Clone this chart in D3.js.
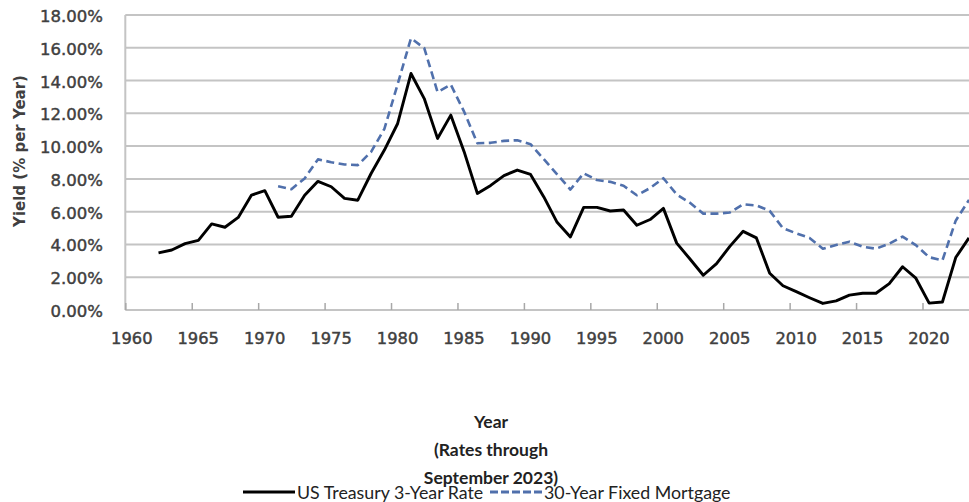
<!DOCTYPE html>
<html>
<head>
<meta charset="utf-8">
<script src="https://cdn.jsdelivr.net/npm/d3@7"></script>
<style>
  html, body { margin: 0; padding: 0; background: #fff; }
  svg { display: block; }
</style>
</head>
<body>
<svg id="chart" width="969" height="502"></svg>
<script>
// Annual average yields (percent), one value per year
const treasuryYears = d3.range(1962, 2024);
const treasury3Y = [
  3.49, 3.66, 4.05, 4.25, 5.25, 5.05, 5.65, 7.01, 7.28, 5.66, 5.72, 7.00,
  7.85, 7.52, 6.81, 6.70, 8.33, 9.76, 11.38, 14.43, 12.90, 10.47, 11.89,
  9.66, 7.11, 7.60, 8.20, 8.54, 8.27, 6.90, 5.35, 4.46, 6.26, 6.26, 6.04,
  6.10, 5.17, 5.52, 6.20, 4.08, 3.11, 2.12, 2.83, 3.88, 4.80, 4.40, 2.24,
  1.48, 1.12, 0.75, 0.40, 0.56, 0.91, 1.02, 1.02, 1.61, 2.64, 1.94, 0.42,
  0.49, 3.20, 4.40
];

const mortgageYears = d3.range(1971, 2024);
const mortgage30Y = [
  7.55, 7.37, 8.03, 9.19, 9.02, 8.88, 8.84, 9.65, 11.05, 13.78, 16.58,
  15.98, 13.30, 13.75, 12.10, 10.17, 10.20, 10.32, 10.36, 10.12, 9.20,
  8.28, 7.35, 8.34, 7.93, 7.82, 7.58, 7.00, 7.44, 8.04, 7.05, 6.54, 5.88,
  5.88, 5.95, 6.45, 6.38, 6.05, 4.99, 4.68, 4.40, 3.74, 3.97, 4.17, 3.86,
  3.74, 4.05, 4.48, 3.96, 3.22, 3.03, 5.45, 6.72
];

const yTicks = [0, 2, 4, 6, 8, 10, 12, 14, 16, 18];
const xTicks = [1960, 1965, 1970, 1975, 1980, 1985, 1990, 1995, 2000, 2005, 2010, 2015, 2020];

const seriesNames = ["US Treasury 3-Year Rate", "30-Year Fixed Mortgage"];
const xTitleLines = ["Year", "(Rates through", "September 2023)"];
const yTitle = "Yield (% per Year)";

const treasury = treasuryYears.map((year, i) => ({ year, value: treasury3Y[i] }));
const mortgage = mortgageYears.map((year, i) => ({ year, value: mortgage30Y[i] }));

const svg = d3.select("#chart");

const plot = { left: 125.3, right: 969, top: 15, bottom: 310 };

const x = d3.scaleLinear().domain([1960, 2023.5]).range([plot.left, plot.right]);
const y = d3.scaleLinear().domain([0, 18]).range([plot.bottom, plot.top]);

const gridColor = "#c4c4c4";
const labelColor = "#404040";
const mortgageColor = "#5070ac";

// Horizontal gridlines
svg.append("g")
  .selectAll("line")
  .data(yTicks.filter(t => t > 0))
  .join("line")
  .attr("x1", plot.left).attr("x2", plot.right + 10)
  .attr("y1", d => y(d)).attr("y2", d => y(d))
  .attr("stroke", gridColor)
  .attr("stroke-width", 2);

// Left axis line
svg.append("line")
  .attr("x1", plot.left).attr("x2", plot.left)
  .attr("y1", y(18)).attr("y2", y(0))
  .attr("stroke", gridColor).attr("stroke-width", 2);

// Bottom axis with inward tick marks
const xAxis = d3.axisBottom(x)
  .tickValues(xTicks)
  .tickSizeInner(-7)
  .tickSizeOuter(0)
  .tickFormat("");
const gx = svg.append("g")
  .attr("transform", `translate(0,${y(0)})`)
  .call(xAxis);
gx.select(".domain").attr("stroke", gridColor).attr("stroke-width", 2)
  .attr("d", `M${plot.left},0H${plot.right + 10}`);
gx.selectAll(".tick line").attr("stroke", "#a8a8a8").attr("stroke-width", 1.5);

// Year labels
svg.append("g")
  .selectAll("text")
  .data(xTicks)
  .join("text")
  .attr("x", d => x(d) + 6.5)
  .attr("y", 338)
  .attr("text-anchor", "middle")
  .attr("dominant-baseline", "central")
  .attr("font-family", "DejaVu Sans")
  .attr("font-size", 16.3)
  .attr("fill", labelColor)
  .attr("stroke", labelColor)
  .attr("stroke-width", 0.45)
  .text(d => d);

// Percentage labels
svg.append("g")
  .selectAll("text")
  .data(yTicks)
  .join("text")
  .attr("x", 103)
  .attr("y", d => y(d) + 1.5)
  .attr("text-anchor", "end")
  .attr("dominant-baseline", "central")
  .attr("font-family", "DejaVu Sans")
  .attr("font-size", 16.5)
  .attr("fill", labelColor)
  .attr("stroke", labelColor)
  .attr("stroke-width", 0.45)
  .text(d => d3.format(".2f")(d) + "%");

// Y axis title
svg.append("text")
  .attr("transform", "translate(20,151) rotate(-90)")
  .attr("text-anchor", "middle")
  .attr("dominant-baseline", "central")
  .attr("font-family", "DejaVu Sans")
  .attr("font-weight", "bold")
  .attr("font-size", 15)
  .attr("fill", labelColor)
  .text(yTitle);

// Series lines, each annual average placed at mid-year
const line = d3.line()
  .x(d => x(d.year + 0.5))
  .y(d => y(d.value));

svg.append("path")
  .datum(mortgage)
  .attr("d", line)
  .attr("fill", "none")
  .attr("stroke", mortgageColor)
  .attr("stroke-width", 2.6)
  .attr("stroke-dasharray", "8,4.5")
  .attr("stroke-linejoin", "round");

svg.append("path")
  .datum(treasury)
  .attr("d", line)
  .attr("fill", "none")
  .attr("stroke", "#000")
  .attr("stroke-width", 2.9)
  .attr("stroke-linejoin", "round");

// X axis title, three lines
svg.append("g")
  .selectAll("text")
  .data(xTitleLines)
  .join("text")
  .attr("x", 491)
  .attr("y", (d, i) => 421 + i * 28)
  .attr("text-anchor", "middle")
  .attr("dominant-baseline", "central")
  .attr("font-family", "Lato")
  .attr("font-weight", "bold")
  .attr("font-size", 17.5)
  .attr("fill", "#222")
  .text(d => d);

// Legend
const legend = svg.append("g").attr("transform", "translate(0,492)");
const legendItems = [
  { name: seriesNames[0], x0: 243, stroke: "#000", dash: null },
  { name: seriesNames[1], x0: 490, stroke: mortgageColor, dash: "8,3" }
];
legendItems.forEach(item => {
  legend.append("line")
    .attr("x1", item.x0).attr("x2", item.x0 + 52)
    .attr("y1", 0).attr("y2", 0)
    .attr("stroke", item.stroke)
    .attr("stroke-width", 3)
    .attr("stroke-dasharray", item.dash);
  legend.append("text")
    .attr("x", item.x0 + 54)
    .attr("y", 0)
    .attr("dominant-baseline", "central")
    .attr("font-family", "Lato")
    .attr("font-size", 17.8)
    .attr("fill", "#222")
    .text(item.name);
});
</script>
</body>
</html>
